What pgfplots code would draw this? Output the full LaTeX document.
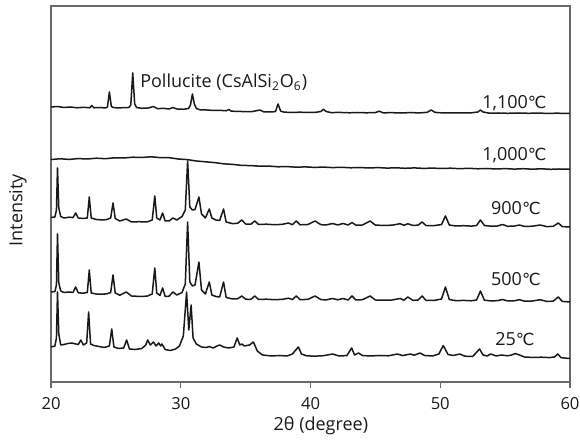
\documentclass[border=0pt]{standalone}
\usepackage{pgfplots}
\pgfplotsset{compat=1.18}
\usepackage{fontspec}
\setmainfont{Open Sans}
\newfontfamily\symfont{DejaVu Sans}
\newcommand{\dC}{{\symfont\fontsize{8.3}{9}\selectfont ℃}}
\definecolor{frame}{RGB}{105,105,105}
\definecolor{ink}{RGB}{25,25,25}

\begin{document}
\begin{tikzpicture}
\path[use as bounding box] (-25.5pt,-31pt) rectangle (264.5pt,191pt);
\begin{axis}[
  at={(0,0)}, anchor=south west,
  scale only axis, width=259.5pt, height=188pt,
  xmin=20, xmax=60, ymin=18, ymax=394,
  xtick={20,30,40,50,60}, ytick=\empty,
  xtick pos=left, tick align=outside, major tick length=3pt,
  axis line style={draw=frame, line width=0.7pt},
  every tick/.style={draw=frame, line width=0.7pt},
  tick label style={font=\fontsize{8.3}{10}\selectfont, text=ink},
  /pgf/number format/assume math mode=true,
  xticklabel style={yshift=-1pt},
  clip=false,
  xrd/.style={draw=ink, line width=0.75pt, line join=round, no markers},
]
% 1,100 C
\addplot[xrd] coordinates {
(20.0,293) (20.5,293.5) (21.0,292.5) (21.5,293) (22.0,292.2) (22.5,292.7) (23.0,292.2) (23.15,294.5) (23.3,292.2)
(23.8,292.5) (24.2,292) (24.35,293) (24.5,308) (24.65,293.5) (24.8,292.5) (25.2,292) (25.6,292.4) (26.0,292.5)
(26.15,295) (26.3,327) (26.45,296) (26.6,292.5) (27.0,291.7) (27.5,292) (27.9,293.5) (28.2,291.4) (28.7,291.6)
(29.1,291) (29.4,292.5) (29.7,291) (30.2,290.7) (30.6,291.5) (30.75,295) (30.9,306) (31.05,296) (31.2,291.5)
(31.5,290.2) (32.0,290) (32.5,289.6) (33.0,289.7) (33.5,289.2) (33.7,290.5) (33.9,288.8) (34.5,288.6) (35.0,288.3)
(35.5,288.4) (36.1,290) (36.4,288.1) (37.0,288) (37.3,288.5) (37.5,296) (37.7,288.8) (38.0,287.8) (38.6,287.6)
(39.2,287.8) (39.8,287.5) (40.4,287.7) (40.8,288.5) (41.0,290.7) (41.2,288.5) (41.6,287.4) (42.2,287.6) (43.0,287.2)
(43.6,287.5) (44.3,287.2) (45.0,287.4) (45.3,288.8) (45.6,287.2) (46.3,287.3) (47.0,287) (47.7,287.4) (48.4,287.1)
(49.0,287.7) (49.3,290) (49.6,287.6) (50.2,287.1) (51.0,287.2) (51.7,287) (52.4,287.2) (52.9,288) (53.1,290)
(53.3,288) (53.8,286.8) (54.5,287) (55.2,286.7) (56.0,287) (56.8,286.7) (57.5,286.9) (58.3,286.6) (59.0,286.8)
(59.6,286.6) (60.0,286.5)
};
% 1,000 C
\addplot[xrd] coordinates {
(20.0,240.5) (20.7,241.2) (21.4,240.6) (22.1,241.4) (22.8,241.0) (23.5,241.8) (24.2,241.3) (24.9,242.2) (25.6,242.0)
(26.3,242.8) (27.0,242.5) (27.7,243.2) (28.4,242.4) (29.1,242.3) (29.8,241.0) (30.5,240.4) (31.2,239.0) (31.9,238.2)
(32.6,237.4) (33.3,236.2) (34.0,235.6) (34.7,234.6) (35.4,234.4) (36.1,233.8) (36.8,233.9) (37.5,233.2) (38.2,233.4)
(38.9,232.8) (39.6,233.1) (40.3,232.6) (41.0,232.9) (41.7,232.4) (42.4,232.7) (43.1,232.2) (43.8,232.5) (44.5,232.0)
(45.2,232.4) (45.9,231.9) (46.6,232.2) (47.3,231.7) (48.0,232.1) (48.7,231.6) (49.4,231.9) (50.1,231.5) (50.8,231.8)
(51.5,231.3) (52.2,231.7) (52.9,231.2) (53.6,231.5) (54.3,231.0) (55.0,231.4) (55.7,230.9) (56.4,231.3) (57.1,230.8)
(57.8,231.2) (58.5,230.7) (59.2,231.0) (60.0,230.8)
};
% 900 C
\addplot[xrd] coordinates {
(20.0,182.5) (20.3,183.0) (20.42,190) (20.5,232) (20.6,192) (20.75,183.5) (21.0,182) (21.4,182.8) (21.7,182.4)
(21.9,187) (22.1,182) (22.5,181.5) (22.8,182) (22.95,203) (23.1,182) (23.5,180.5) (24.0,180) (24.3,180.5) (24.6,182)
(24.78,197) (24.95,181.5) (25.3,179) (25.8,181) (26.2,178) (26.8,178.3) (27.4,178) (27.8,180) (28.0,204) (28.15,182)
(28.4,180) (28.6,187) (28.8,179) (29.1,179) (29.4,182) (29.7,180) (30.1,183.5) (30.35,190) (30.53,239) (30.7,193)
(30.9,190) (31.1,190.5) (31.4,203) (31.6,186) (31.9,182) (32.2,191) (32.4,182) (32.7,180) (33.0,179.5) (33.3,191)
(33.5,178) (34.0,176.3) (34.4,176.8) (34.7,180) (35.0,176) (35.4,175.8) (35.7,179) (36.0,175.5) (36.6,175.8)
(37.2,175.3) (37.8,175.6) (38.3,177) (38.6,175.3) (38.9,179) (39.2,175.2) (39.8,175.5) (40.35,179) (40.8,175.3)
(41.2,175) (41.7,176.5) (42.1,175) (42.5,176.5) (42.9,175) (43.2,177.5) (43.5,174.8) (44.0,175) (44.6,179) (45.0,174.9)
(45.6,174.6) (46.3,174.8) (46.9,176.3) (47.2,174.7) (47.5,176.2) (47.9,174.5) (48.3,174.9) (48.6,178) (48.9,174.5)
(49.5,174.3) (50.1,175.5) (50.4,184) (50.7,175) (51.2,174) (51.8,174.3) (52.4,173.9) (52.8,174.5) (53.1,180) (53.4,174.5)
(53.9,173.8) (54.4,174) (54.8,175.5) (55.2,173.7) (55.7,173.9) (56.1,175) (56.5,173.5) (57.1,173.8) (57.7,175)
(58.2,173.4) (58.7,173.6) (59.1,177) (59.4,173.4) (60.0,173)
};
% 500 C
\addplot[xrd] coordinates {
(20.0,108) (20.3,108.5) (20.42,115) (20.5,166) (20.6,117) (20.75,109) (21.0,107.5) (21.4,108) (21.7,107.6) (21.9,113)
(22.1,107.2) (22.5,106.8) (22.8,107.5) (22.95,130) (23.1,107) (23.5,106) (24.0,105.8) (24.3,106.2) (24.6,107.5)
(24.78,125) (24.95,107) (25.3,104.8) (25.8,108) (26.2,104) (26.8,103.6) (27.4,103.8) (27.8,106) (28.0,132) (28.15,107)
(28.4,104.5) (28.6,112) (28.8,103.5) (29.1,103.8) (29.4,108) (29.7,105) (30.1,107.5) (30.35,116) (30.53,178) (30.7,118)
(30.9,114) (31.1,115) (31.4,138) (31.6,110) (31.9,106) (32.2,118) (32.4,105) (32.7,103.5) (33.0,103) (33.3,118)
(33.5,102.5) (34.0,101) (34.4,101.3) (34.7,104) (35.0,100.8) (35.4,100.6) (35.7,104) (36.0,100.5) (36.6,100.8)
(37.2,100.3) (37.8,100.6) (38.3,101.8) (38.6,100.4) (38.9,104) (39.2,100.3) (39.8,100.6) (40.35,104) (40.8,100.4)
(41.2,100.1) (41.7,101.5) (42.1,100.2) (42.5,101.5) (42.9,100) (43.2,104) (43.5,100) (44.0,100.3) (44.6,104) (45.0,100)
(45.6,99.8) (46.3,100) (46.9,101.5) (47.2,99.8) (47.5,103) (47.9,99.6) (48.3,100) (48.6,104) (48.9,99.6) (49.5,99.5)
(50.1,101) (50.4,113) (50.7,100.5) (51.2,99.3) (51.8,99.6) (52.4,99.2) (52.8,100) (53.1,109) (53.4,99.8) (53.9,99.1)
(54.4,99.3) (54.8,100.5) (55.2,99) (55.7,99.2) (56.1,100.3) (56.5,98.8) (57.1,99) (57.7,100.3) (58.2,98.6) (58.7,98.8)
(59.1,103) (59.4,98.6) (60.0,98)
};
% 25 C
\addplot[xrd] coordinates {
(20.0,53) (20.3,54) (20.42,62) (20.5,108) (20.6,66) (20.75,55) (21.0,55.5) (21.3,56.5) (21.6,57) (21.9,56) (22.1,55.5)
(22.3,60) (22.5,55) (22.75,57) (22.9,88) (23.05,56) (23.3,54.5) (23.7,53.5) (24.1,52.5) (24.5,54) (24.68,71) (24.85,53)
(25.2,51.5) (25.6,52) (25.83,60) (26.05,51) (26.5,50.5) (27.0,51.5) (27.3,55) (27.45,60) (27.65,55) (27.9,58) (28.1,54)
(28.3,57) (28.45,54) (28.55,56) (28.8,50.5) (29.2,49.5) (29.6,51) (29.9,54) (30.2,64) (30.45,108) (30.62,70) (30.8,95)
(30.95,62) (31.2,56) (31.6,53) (32.0,52.5) (32.2,53.5) (32.5,52) (32.8,54) (33.0,55) (33.3,53) (33.7,52) (34.1,53)
(34.35,62) (34.55,55) (34.7,56) (34.9,54) (35.3,55) (35.6,58) (35.9,49) (36.3,45) (37.0,44) (37.6,44.5) (38.2,44)
(38.6,46) (38.8,49) (39.07,53) (39.3,46) (39.7,44.2) (40.3,43.8) (41.0,44.3) (41.7,46) (42.2,44) (42.8,44.4) (43.17,52)
(43.4,45) (43.7,47) (44.0,44.5) (44.6,44) (45.3,44.5) (46.0,44.2) (46.7,46) (47.1,44.4) (47.7,46) (48.0,44.8) (48.44,47)
(48.8,44.5) (49.4,44) (49.9,46) (50.23,54.5) (50.6,45.5) (51.0,44.5) (51.5,46) (51.9,43.8) (52.5,43.5) (53.03,51)
(53.3,45) (53.6,44) (53.9,46) (54.3,44) (54.7,45) (55.2,44.2) (55.5,45) (55.78,46.5) (56.1,45) (56.5,43) (57.2,42.5)
(57.8,42.8) (58.4,42.4) (58.8,43) (59.06,46) (59.3,42.4) (59.7,41.8) (60.0,41.5)
};
\begin{scope}[every node/.style={font=\fontsize{9}{11}\selectfont, text=ink, inner sep=0pt}]
\node[anchor=base west] at (axis cs:26.85,312) {Pollucite (CsAlSi\textsubscript{2}O\textsubscript{6})};
\node[anchor=base east] at (axis cs:58.23,291) {1,100\dC};
\node[anchor=base east] at (axis cs:58.23,239) {1,000\dC};
\node[anchor=base east] at (axis cs:57.77,185) {900\dC};
\node[anchor=base east] at (axis cs:57.77,114) {500\dC};
\node[anchor=base east] at (axis cs:57.30,54) {25\dC};
\node[rotate=90] at (axis description cs:-0.0636,0.457) {Intensity};
\node at (axis description cs:0.52,-0.117) {2θ (degree)};
\end{scope}
\end{axis}
\end{tikzpicture}
\end{document}
